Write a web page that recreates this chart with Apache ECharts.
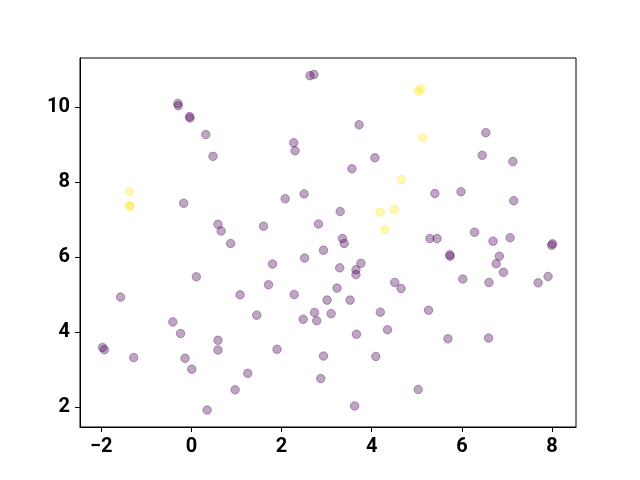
<!DOCTYPE html>
<html>
<head>
<meta charset="utf-8">
<script src="https://cdn.jsdelivr.net/npm/echarts@6/dist/echarts.min.js"></script>
<style>html,body{margin:0;padding:0;background:#fff}#c{width:640px;height:480px}</style>
</head>
<body>
<div id="c"></div>
<script>
const xTicks = [-2, 0, 2, 4, 6, 8];
const yTicks = [2, 4, 6, 8, 10];
const purpleX = [-0.30,-0.29,-0.04,-0.03,0.32,0.48,-0.17,0.59,0.66,0.87,2.63,2.72,3.72,2.27,2.30,4.07,3.56,2.50,2.08,3.30,1.60,2.82,3.35,3.39,6.53,6.45,7.13,5.40,5.98,7.15,6.28,5.29,5.45,6.69,7.07,0.11,-1.57,1.08,-0.41,-0.24,0.59,0.59,-1.97,-1.93,-1.28,-0.14,0.01,1.25,0.97,0.35,2.93,2.51,1.80,3.29,3.76,3.65,3.65,4.51,4.65,1.71,2.28,3.23,3.01,3.52,1.45,2.73,3.10,2.48,2.78,4.19,3.66,4.35,1.90,2.93,4.09,2.87,3.62,7.99,8.01,5.73,5.74,6.83,6.76,6.92,6.02,6.60,7.69,7.91,5.26,5.69,6.59,5.03];
const purpleY = [10.09,10.03,9.74,9.70,9.26,8.68,7.43,6.87,6.69,6.36,10.83,10.86,9.52,9.04,8.83,8.64,8.35,7.68,7.55,7.21,6.82,6.88,6.49,6.36,9.31,8.71,8.54,7.69,7.74,7.50,6.66,6.49,6.49,6.42,6.51,5.47,4.93,4.99,4.27,3.96,3.78,3.52,3.59,3.53,3.32,3.30,3.01,2.90,2.46,1.92,6.18,5.97,5.81,5.71,5.83,5.66,5.53,5.32,5.16,5.26,5.00,5.17,4.85,4.85,4.45,4.52,4.49,4.34,4.30,4.53,3.94,4.06,3.54,3.36,3.35,2.76,2.03,6.31,6.35,6.06,6.02,6.02,5.82,5.59,5.41,5.32,5.31,5.48,4.58,3.82,3.84,2.47];
const yellowX = [-1.37,-1.36,-1.37,4.66,4.19,4.50,4.29,5.03,5.08,5.13];
const yellowY = [7.74,7.37,7.35,8.06,7.19,7.27,6.73,10.42,10.48,9.18];

const zip = (xs, ys) => xs.map((x, i) => [x, ys[i]]);
const fmt = v => String(v).replace('-', '\u2212');
const labelFont = {fontFamily: 'Roboto', fontWeight: 'bold', fontSize: 20, color: '#000', formatter: fmt};
const chart = echarts.init(document.getElementById('c'), null, {renderer: 'canvas'});
chart.setOption({
  animation: false,
  backgroundColor: '#fff',
  grid: {left: 80, right: 64, top: 58, bottom: 53, show: true, borderColor: '#000', borderWidth: 1, backgroundColor: 'transparent'},
  xAxis: {
    type: 'value', min: -2.47, max: 8.53,
    axisLine: {show: true, onZero: false, lineStyle: {color: '#000', width: 1}},
    axisTick: {show: true, length: 5, customValues: xTicks, lineStyle: {color: '#000', width: 1}},
    axisLabel: Object.assign({margin: 10, customValues: xTicks}, labelFont),
    splitLine: {show: false}
  },
  yAxis: {
    type: 'value', min: 1.47, max: 11.30,
    axisLine: {show: true, onZero: false, lineStyle: {color: '#000', width: 1}},
    axisTick: {show: true, length: 5, customValues: yTicks, lineStyle: {color: '#000', width: 1}},
    axisLabel: Object.assign({margin: 10, customValues: yTicks}, labelFont),
    splitLine: {show: false}
  },
  series: [
    {type: 'scatter', data: zip(purpleX, purpleY), symbol: 'circle', symbolSize: 8.5,
     itemStyle: {color: 'rgba(68,1,84,0.35)', borderColor: 'rgba(68,1,84,0.35)', borderWidth: 1, opacity: 1}},
    {type: 'scatter', data: zip(yellowX, yellowY), symbol: 'circle', symbolSize: 8.5,
     itemStyle: {color: 'rgba(253,231,37,0.35)', borderColor: 'rgba(253,231,37,0.35)', borderWidth: 1, opacity: 1}}
  ]
});
</script>
</body>
</html>
